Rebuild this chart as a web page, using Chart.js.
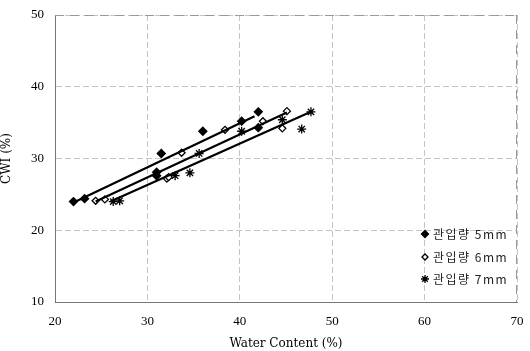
<!DOCTYPE html>
<html><head><meta charset="utf-8">
<script src="https://cdn.jsdelivr.net/npm/chart.js@4/dist/chart.umd.min.js"></script>
<style>html,body{margin:0;padding:0;background:#fff}#w{width:530px;height:351px}</style>
</head><body><div id="w"><canvas id="c" width="530" height="351"></canvas></div>
<script>
const seriesNames = ['관입량 5mm', '관입량 6mm', '관입량 7mm'];
const wc5 = [22.0, 23.2, 31.0, 31.0, 31.5, 36.0, 40.2, 42.0, 42.0];
const cwi5 = [24.0, 24.4, 27.6, 28.1, 30.7, 33.8, 35.2, 36.5, 34.3];
const wc6 = [24.4, 25.4, 32.1, 32.3, 33.7, 38.4, 42.5, 44.6, 45.1];
const cwi6 = [24.1, 24.3, 27.2, 27.4, 30.8, 34.0, 35.2, 34.2, 36.6];
const wc7 = [26.3, 27.0, 33.0, 34.6, 35.6, 40.2, 44.6, 46.7, 47.7];
const cwi7 = [24.0, 24.1, 27.6, 28.0, 30.7, 33.8, 35.4, 34.1, 36.5];
const fitX5 = [21.9, 41.6], fitY5 = [23.8, 35.9];
const fitX6 = [24.4, 45.1], fitY6 = [24.0, 36.4];
const fitX7 = [26.0, 47.7], fitY7 = [24.0, 36.5];
const xTicks = [20, 30, 40, 50, 60, 70];
const yTicks = [10, 20, 30, 40, 50];

const pts = (xs, ys) => xs.map((x, i) => ({x, y: ys[i]}));
const markers = [
  {pointStyle: 'rectRot', radius: 4, bg: '#000', border: '#000'},
  {pointStyle: 'rectRot', radius: 3.5, bg: '#fff', border: '#000'},
  {pointStyle: 'star', radius: 4.5, bg: '#000', border: '#000'}
];
const ptSets = [pts(wc5, cwi5), pts(wc6, cwi6), pts(wc7, cwi7)];
const fitSets = [pts(fitX5, fitY5), pts(fitX6, fitY6), pts(fitX7, fitY7)];
const datasets = [];
fitSets.forEach(d => datasets.push({type: 'line', data: d, borderColor: '#000', borderWidth: 2.2, pointRadius: 0, fill: false, showLine: true}));
ptSets.forEach((d, i) => datasets.push({type: 'scatter', label: seriesNames[i], data: d, pointStyle: markers[i].pointStyle,
  pointRadius: markers[i].radius, backgroundColor: markers[i].bg, borderColor: markers[i].border, borderWidth: 1.3}));

const legendPlugin = {
  id: 'inlegend',
  afterDraw(chart) {
    const ctx = chart.ctx;
    const x0 = 425, ys = [234, 257, 279];
    ctx.save();
    ctx.font = '12px "Noto Sans CJK KR"';
    ctx.letterSpacing = '1.5px';
    ctx.textBaseline = 'middle';
    seriesNames.forEach((n, i) => {
      const m = markers[i];
      ctx.fillStyle = m.bg; ctx.strokeStyle = m.border; ctx.lineWidth = 1.3;
      Chart.helpers.drawPoint(ctx, {pointStyle: m.pointStyle, radius: m.radius - 0.5, borderWidth: 1.3}, x0, ys[i]);
      ctx.fillStyle = '#222';
      ctx.fillText(n, x0 + 8, ys[i]);
    });
    ctx.restore();
  }
};

new Chart(document.getElementById('c'), {
  data: {datasets},
  options: {
    responsive: false, animation: false,
    layout: {padding: {top: 15, right: 13, left: 0, bottom: 0}},
    plugins: {legend: {display: false}, tooltip: {enabled: false}},
    scales: {
      x: {type: 'linear', min: 20, max: 70,
        afterBuildTicks: s => { s.ticks = xTicks.map(v => ({value: v})); },
        afterFit: s => { s.height = 49; s.paddingLeft = 0; s.paddingRight = 0; },
        grid: {color: '#c4c4c4', borderDash: [9, 7], drawTicks: false, lineWidth: 1},
        border: {color: '#777', dash: [6, 3]},
        ticks: {color: '#000', font: {family: '"Liberation Serif"', size: 13}, padding: 12},
        title: {display: true, text: 'Water Content (%)', color: '#000', font: {family: '"DejaVu Serif"', size: 12}, padding: {top: 1, bottom: 0}}
      },
      y: {type: 'linear', min: 10, max: 50,
        afterBuildTicks: s => { s.ticks = yTicks.map(v => ({value: v})); },
        afterFit: s => { s.width = 55; s.paddingTop = 0; s.paddingBottom = 0; },
        grid: {color: '#c4c4c4', borderDash: [9, 7], drawTicks: false, lineWidth: 1},
        border: {color: '#777', dash: [6, 3]},
        ticks: {color: '#000', font: {family: '"Liberation Serif"', size: 13}, padding: 11},
        title: {display: true, text: 'CWI (%)', color: '#000', font: {family: '"DejaVu Serif"', size: 12}, padding: {top: 0, bottom: 5}}
      }
    }
  },
  plugins: [legendPlugin, {
    id: 'frame',
    afterDatasetsDraw(chart) {
      const a = chart.chartArea, ctx = chart.ctx;
      ctx.save(); ctx.strokeStyle = '#999'; ctx.lineWidth = 1; ctx.setLineDash([9, 6]);
      ctx.beginPath(); ctx.moveTo(a.left, a.top + 0.5); ctx.lineTo(a.right, a.top + 0.5);
      ctx.moveTo(a.right - 0.5, a.top); ctx.lineTo(a.right - 0.5, a.bottom); ctx.stroke(); ctx.restore();
    }
  }]
});
</script></body></html>
